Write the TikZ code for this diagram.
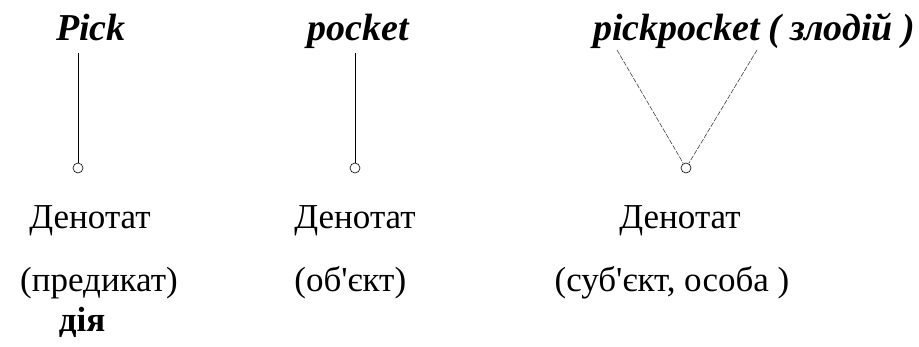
\documentclass[tikz,border=0pt]{standalone}
\usepackage{fontspec}
\newfontfamily\capfont{LiberationSerif}[Extension=.ttf,
  UprightFont=*-Regular, BoldFont=*-Bold, ItalicFont=*-Italic,
  BoldItalicFont=*-BoldItalic, Ligatures=TeXOff]
\usetikzlibrary{positioning}

\begin{document}
\begin{tikzpicture}[x=1pt, y=-1pt,
    wrd/.style={font=\capfont\fontsize{38}{42}\selectfont\bfseries\itshape,
      inner sep=0pt, anchor=base},
    den/.style={font=\capfont\fontsize{35}{40}\selectfont, inner sep=0pt,
      anchor=base},
    pnt/.style={circle, draw, line width=0.6pt, minimum size=10pt,
      inner sep=0pt},
    ln/.style={line width=0.7pt},
    lnv/.style={line width=0.6pt, dash pattern=on 5pt off 1.5pt, black!75}]
    \useasboundingbox (0,0) rectangle (919,346);
    % words
    \node[wrd] (pick) at (91,40) {Pick};
    \node[wrd] (pocket) at (358,40) {pocket};
    \node[wrd, anchor=base west] (pp) at (593,40) {pickpocket};
    \node[wrd, anchor=base west, xshift=8pt] (zl) at (pp.base east)
      {( злодій )};
    % denotata
    \node[pnt] (dA) at (78,168) {};
    \node[pnt] (dB) at (355,168) {};
    \node[pnt] (dC) at (686,168) {};
    \coordinate (fA) at (78,53);
    \coordinate (fB) at (355,53);
    \coordinate (fL) at (617,50);
    \coordinate (fR) at (757,50);
    \draw[ln] (fA)--(dA); \draw[ln] (fB)--(dB);
    \draw[lnv] (fL)--(dC); \draw[lnv] (fR)--(dC);
    % captions
    \node[den] (tA) at (90,228) {Денотат};
    \node[den] (tB) at (355,228) {Денотат};
    \node[den] (tC) at (680,228) {Денотат};
    \node[den] (rA) at (99,291) {(предикат)};
    \node[den, anchor=base west] (rB) at (tB.west |- 0,291) {(об'єкт)};
    \node[den] (rC) at (672,291) {(суб'єкт, особа )};
    \node[den, font=\capfont\fontsize{35}{40}\selectfont\bfseries] (act)
      at (82,331) {дія};
  \end{tikzpicture}
\end{document}
